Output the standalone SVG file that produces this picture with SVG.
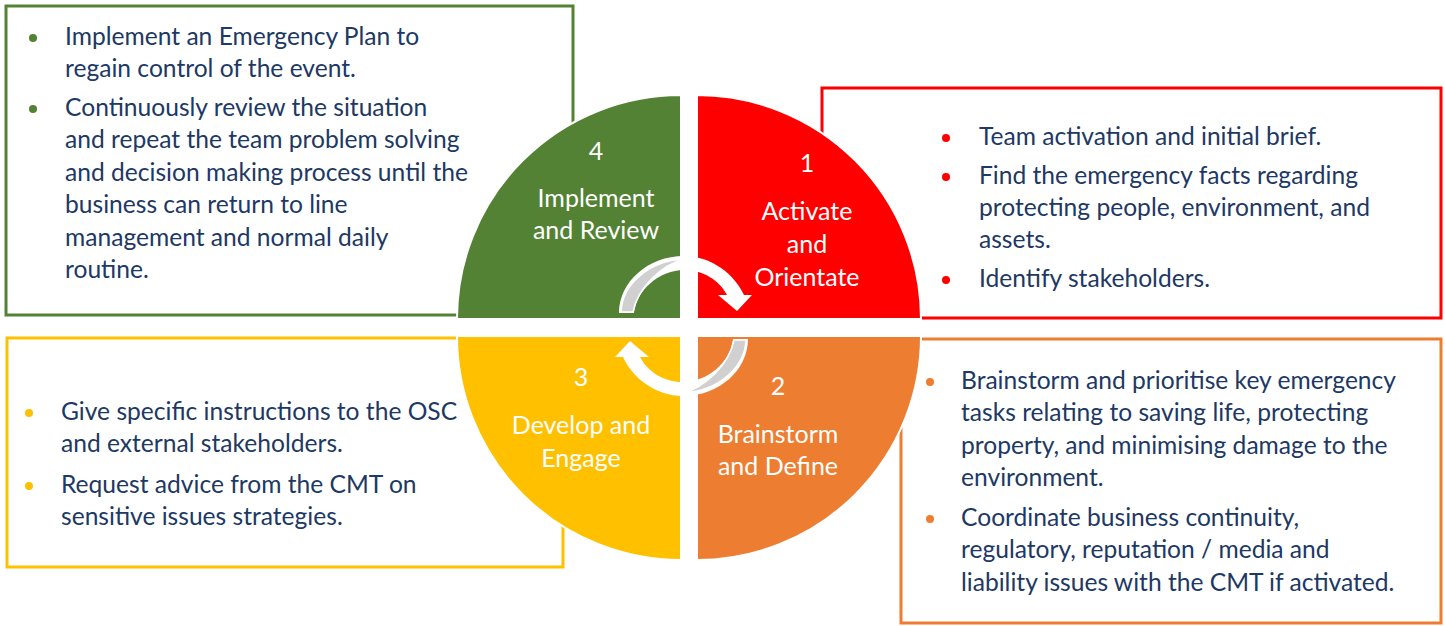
<svg xmlns="http://www.w3.org/2000/svg" width="1445" height="626" viewBox="0 0 1445 626">
<style>
.t{font-family:Lato,"Open Sans","Liberation Sans",sans-serif;font-size:24.6px;fill:#203864}
.q{font-family:Lato,"Open Sans","Liberation Sans",sans-serif;font-size:25px;fill:#ffffff;text-anchor:middle}
.box{fill:#ffffff;stroke-width:3}
.quad{stroke:#ffffff;stroke-width:2}
</style>
<rect width="1445" height="626" fill="#ffffff"/>
<g id="box-green">
<rect class="box" x="6" y="6" width="567" height="309" stroke="#548235"/>
<circle cx="33" cy="38" r="4" fill="#548235"/>
<circle cx="33" cy="109" r="4" fill="#548235"/>
<text class="t" x="65" y="45">Implement an Emergency Plan to</text>
<text class="t" x="65" y="77">regain control of the event.</text>
<text class="t" x="65" y="116">Continuously review the situation</text>
<text class="t" x="65" y="148">and repeat the team problem solving</text>
<text class="t" x="65" y="181">and decision making process until the</text>
<text class="t" x="65" y="213">business can return to line</text>
<text class="t" x="65" y="246">management and normal daily</text>
<text class="t" x="65" y="278">routine.</text>
</g>
<g id="box-red">
<rect class="box" x="822" y="88" width="619" height="230" stroke="#FF0000"/>
<circle cx="946" cy="138" r="4" fill="#FF0000"/>
<circle cx="946" cy="177" r="4" fill="#FF0000"/>
<circle cx="946" cy="280" r="4" fill="#FF0000"/>
<text class="t" x="979" y="145">Team activation and initial brief.</text>
<text class="t" x="979" y="184">Find the emergency facts regarding</text>
<text class="t" x="979" y="216">protecting people, environment, and</text>
<text class="t" x="979" y="248">assets.</text>
<text class="t" x="979" y="287">Identify stakeholders.</text>
</g>
<g id="box-yellow">
<rect class="box" x="7" y="338" width="556" height="229" stroke="#FFC000"/>
<circle cx="29" cy="413" r="4" fill="#FFC000"/>
<circle cx="29" cy="486" r="4" fill="#FFC000"/>
<text class="t" x="61" y="420">Give specific instructions to the OSC</text>
<text class="t" x="61" y="452">and external stakeholders.</text>
<text class="t" x="61" y="493">Request advice from the CMT on</text>
<text class="t" x="61" y="525">sensitive issues strategies.</text>
</g>
<g id="box-orange">
<rect class="box" x="901" y="339" width="540" height="284" stroke="#ED7D31"/>
<circle cx="930" cy="382" r="4" fill="#ED7D31"/>
<circle cx="930" cy="519" r="4" fill="#ED7D31"/>
<text class="t" x="961" y="389">Brainstorm and prioritise key emergency</text>
<text class="t" x="961" y="421">tasks relating to saving life, protecting</text>
<text class="t" x="961" y="454">property, and minimising damage to the</text>
<text class="t" x="961" y="486">environment.</text>
<text class="t" x="961" y="526">Coordinate business continuity,</text>
<text class="t" x="961" y="558">regulatory, reputation / media and</text>
<text class="t" x="961" y="591">liability issues with the CMT if activated.</text>
</g>
<g id="quad-4">
<path class="quad" d="M681,319 L457,319 A224,224 0 0 1 681,95 Z" fill="#548235"/>
<text class="q" x="596" y="160">4</text>
<text class="q" x="596" y="207">Implement</text>
<text class="q" x="596" y="239">and Review</text>
</g>
<g id="quad-1">
<path class="quad" d="M697,319 L697,95 A224,224 0 0 1 921,319 Z" fill="#FF0000"/>
<text class="q" x="807" y="172">1</text>
<text class="q" x="807" y="220">Activate</text>
<text class="q" x="807" y="253">and</text>
<text class="q" x="807" y="286">Orientate</text>
</g>
<g id="quad-2">
<path class="quad" d="M697,336 L921,336 A224,224 0 0 1 697,560 Z" fill="#ED7D31"/>
<text class="q" x="778" y="395">2</text>
<text class="q" x="778" y="443">Brainstorm</text>
<text class="q" x="778" y="475">and Define</text>
</g>
<g id="quad-3">
<path class="quad" d="M681,336 L681,560 A224,224 0 0 1 457,336 Z" fill="#FFC000"/>
<text class="q" x="581" y="386">3</text>
<text class="q" x="581" y="434">Develop and</text>
<text class="q" x="581" y="467">Engage</text>
</g>
<g id="connectors">
<g id="arrow-top">
<path d="M619,313 C619,282 648,256 684,256 C712,256 735,275 744,295 L752,295 L737,311 L718,295 L727,295 C719,280 703,270 684,270 C660,270 636,290 634,313 Z" fill="#ffffff"/>
<path d="M621,312 C622,285 648,261 684,259 C662,265 638,287 633,312 Z" fill="#D0D0D0" stroke="#ffffff" stroke-width="1.5"/>
</g>
<g id="arrow-bottom" transform="rotate(180 683.5 326)">
<path d="M619,313 C619,282 648,256 684,256 C712,256 735,275 744,295 L752,295 L737,311 L718,295 L727,295 C719,280 703,270 684,270 C660,270 636,290 634,313 Z" fill="#ffffff"/>
<path d="M621,312 C622,285 648,261 684,259 C662,265 638,287 633,312 Z" fill="#D0D0D0" stroke="#ffffff" stroke-width="1.5"/>
</g>
</g>
</svg>
